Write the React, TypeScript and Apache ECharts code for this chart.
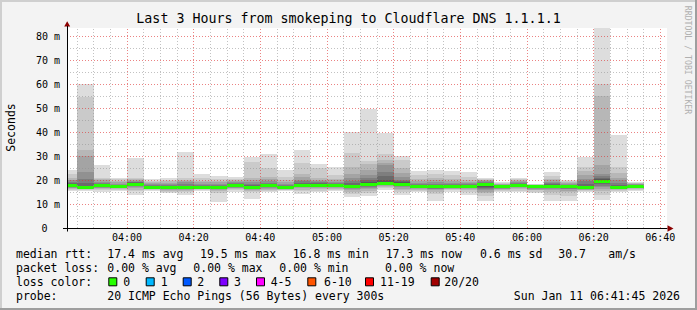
import React, { useEffect, useRef } from 'react';
import * as echarts from 'echarts';

// ---- data -------------------------------------------------------------
// end time of each 5-minute smokeping bin
const binEnds = [
  '03:45', '03:50', '03:55', '04:00', '04:05', '04:10', '04:15', '04:20', '04:25', '04:30',
  '04:35', '04:40', '04:45', '04:50', '04:55', '05:00', '05:05', '05:10', '05:15', '05:20',
  '05:25', '05:30', '05:35', '05:40', '05:45', '05:50', '05:55', '06:00', '06:05', '06:10',
  '06:15', '06:20', '06:25', '06:30', '06:35',
];

// median rtt (ms) per bin
const medians = [
  17.6, 17.0, 17.7, 17.2, 18.3, 17.0, 16.9, 16.9, 16.9, 16.8,
  17.9, 17.0, 17.6, 16.8, 17.9, 17.9, 17.8, 17.2, 18.3, 18.7,
  18.3, 17.3, 17.2, 17.3, 17.1, 18.0, 17.1, 17.8, 17.1, 17.5,
  17.1, 16.8, 19.5, 17.0, 17.3,
];

// lost pings per bin (out of 20)
const lostPings = [
  0, 0, 0, 0, 0, 0, 0, 0, 0, 0,
  0, 0, 0, 0, 0, 0, 0, 0, 0, 0,
  0, 0, 0, 0, 0, 0, 0, 0, 0, 0,
  0, 0, 0, 0, 0,
];

// the 20 sorted ping rtts (ms) of each bin -> smoke
const sortedPings = [
  [15.5, 16.0, 16.3, 16.6, 16.8, 17.0, 17.2, 17.4, 17.5, 17.6, 17.7, 17.9, 18.2, 18.6, 19.2, 19.8, 20.2, 21.0, 22.5, 24.0],
  [15.3, 15.8, 16.2, 16.4, 16.6, 16.8, 16.9, 17.0, 17.0, 17.0, 17.1, 17.3, 17.7, 18.6, 20.5, 23.2, 29.8, 32.3, 54.5, 60.2],
  [15.2, 15.7, 16.1, 16.5, 16.8, 17.0, 17.2, 17.4, 17.5, 17.7, 17.8, 17.9, 18.1, 18.4, 18.8, 19.3, 19.8, 20.3, 21.0, 26.4],
  [15.6, 16.0, 16.3, 16.5, 16.7, 16.9, 17.0, 17.1, 17.2, 17.2, 17.3, 17.4, 17.6, 17.8, 18.1, 18.5, 19.0, 19.6, 20.3, 21.0],
  [13.6, 15.3, 16.0, 16.6, 17.0, 17.4, 17.7, 17.9, 18.1, 18.3, 18.4, 18.6, 18.8, 19.0, 19.3, 19.6, 20.0, 20.5, 21.0, 29.2],
  [15.3, 15.8, 16.2, 16.4, 16.6, 16.8, 16.9, 17.0, 17.0, 17.0, 17.1, 17.2, 17.4, 17.6, 17.9, 18.2, 18.6, 19.0, 19.6, 20.4],
  [14.5, 15.2, 15.6, 16.0, 16.3, 16.5, 16.6, 16.7, 16.8, 16.9, 17.0, 17.1, 17.3, 17.6, 18.0, 18.4, 18.9, 19.4, 20.1, 20.9],
  [13.6, 15.0, 15.6, 16.0, 16.3, 16.5, 16.6, 16.7, 16.8, 16.9, 17.0, 17.1, 17.3, 17.7, 18.3, 19.0, 19.6, 20.2, 20.9, 31.6],
  [15.4, 15.8, 16.1, 16.3, 16.5, 16.6, 16.7, 16.8, 16.9, 16.9, 17.0, 17.1, 17.3, 17.6, 18.0, 18.5, 19.0, 19.6, 20.8, 22.7],
  [10.8, 14.6, 15.4, 15.8, 16.1, 16.3, 16.5, 16.6, 16.7, 16.8, 16.9, 17.0, 17.2, 17.5, 17.9, 18.4, 19.0, 19.7, 20.6, 21.5],
  [15.2, 15.7, 16.1, 16.5, 16.8, 17.1, 17.3, 17.5, 17.7, 17.8, 17.9, 18.0, 18.2, 18.4, 18.7, 19.0, 19.4, 19.9, 20.6, 21.4],
  [11.9, 14.8, 15.5, 15.9, 16.2, 16.4, 16.6, 16.8, 16.9, 17.0, 17.1, 17.3, 17.6, 18.0, 18.5, 19.2, 20.0, 20.9, 27.6, 29.5],
  [15.0, 15.6, 16.0, 16.4, 16.7, 16.9, 17.1, 17.3, 17.4, 17.5, 17.6, 17.8, 18.0, 18.4, 18.9, 19.5, 20.3, 21.2, 24.8, 31.0],
  [15.3, 15.7, 16.0, 16.2, 16.4, 16.5, 16.6, 16.7, 16.8, 16.8, 16.9, 17.0, 17.2, 17.5, 17.9, 18.4, 19.0, 19.8, 21.3, 24.3],
  [14.2, 15.3, 16.0, 16.5, 16.9, 17.2, 17.4, 17.6, 17.7, 17.8, 17.9, 18.1, 18.4, 18.8, 19.4, 20.2, 21.2, 22.3, 27.1, 32.7],
  [15.0, 15.6, 16.1, 16.5, 16.9, 17.2, 17.4, 17.6, 17.7, 17.8, 17.9, 18.1, 18.3, 18.6, 19.0, 19.5, 20.1, 20.9, 24.8, 26.7],
  [15.5, 16.0, 16.4, 16.8, 17.1, 17.3, 17.5, 17.6, 17.7, 17.8, 17.9, 18.0, 18.2, 18.5, 18.8, 19.2, 19.8, 20.6, 21.9, 25.6],
  [12.8, 14.0, 15.2, 15.8, 16.2, 16.5, 16.7, 16.9, 17.0, 17.2, 17.3, 17.6, 18.0, 18.6, 19.5, 21.0, 22.5, 25.3, 31.3, 40.1],
  [13.3, 14.6, 15.6, 16.3, 16.8, 17.2, 17.6, 17.9, 18.1, 18.3, 18.5, 18.8, 19.2, 19.8, 20.7, 22.0, 24.2, 26.8, 27.8, 49.4],
  [16.0, 16.5, 17.0, 17.4, 17.8, 18.1, 18.3, 18.5, 18.6, 18.7, 18.8, 19.2, 20.0, 21.5, 23.4, 26.4, 27.1, 28.5, 30.9, 39.6],
  [13.7, 15.0, 15.8, 16.4, 16.9, 17.3, 17.6, 17.9, 18.1, 18.3, 18.5, 18.7, 19.0, 19.5, 20.2, 21.2, 23.0, 25.0, 28.5, 29.9],
  [15.0, 15.6, 16.0, 16.3, 16.6, 16.8, 17.0, 17.1, 17.2, 17.3, 17.4, 17.5, 17.7, 18.0, 18.4, 18.9, 19.5, 20.3, 22.0, 23.9],
  [11.1, 14.0, 15.0, 15.7, 16.1, 16.4, 16.7, 16.9, 17.0, 17.2, 17.3, 17.4, 17.7, 18.0, 18.5, 19.1, 19.9, 20.8, 22.3, 24.3],
  [15.2, 15.7, 16.1, 16.4, 16.6, 16.8, 17.0, 17.1, 17.2, 17.3, 17.4, 17.5, 17.7, 18.0, 18.4, 18.9, 19.6, 20.5, 22.0, 23.9],
  [13.7, 15.2, 15.8, 16.2, 16.5, 16.7, 16.9, 17.0, 17.1, 17.1, 17.2, 17.3, 17.5, 17.8, 18.2, 18.7, 19.3, 20.1, 21.3, 23.2],
  [11.4, 13.3, 14.5, 15.2, 15.7, 16.2, 16.6, 17.0, 17.4, 17.8, 18.1, 18.3, 18.6, 18.9, 19.2, 19.5, 19.8, 20.2, 20.6, 20.9],
  [14.8, 15.4, 15.8, 16.1, 16.4, 16.6, 16.8, 16.9, 17.0, 17.0, 17.1, 17.2, 17.3, 17.5, 17.7, 17.9, 18.2, 18.5, 18.8, 19.1],
  [15.0, 15.6, 16.1, 16.5, 16.9, 17.2, 17.4, 17.6, 17.7, 17.8, 17.9, 18.0, 18.2, 18.4, 18.7, 19.0, 19.4, 19.8, 20.3, 20.9],
  [14.4, 15.2, 15.7, 16.0, 16.3, 16.5, 16.7, 16.8, 16.9, 17.0, 17.1, 17.2, 17.3, 17.4, 17.6, 17.7, 17.9, 18.0, 18.2, 18.4],
  [11.4, 13.8, 15.0, 15.7, 16.2, 16.6, 16.9, 17.1, 17.3, 17.5, 17.6, 17.8, 18.0, 18.3, 18.7, 19.2, 19.8, 20.6, 21.8, 23.2],
  [11.4, 13.5, 14.8, 15.6, 16.1, 16.4, 16.7, 16.9, 17.0, 17.1, 17.2, 17.3, 17.5, 17.7, 17.9, 18.2, 18.6, 19.0, 19.5, 20.2],
  [14.8, 15.3, 15.7, 16.0, 16.3, 16.5, 16.6, 16.7, 16.8, 16.8, 16.9, 17.1, 17.6, 18.5, 19.5, 20.5, 22.0, 23.6, 25.4, 29.6],
  [11.8, 13.6, 15.3, 16.4, 17.1, 17.7, 18.3, 18.8, 19.2, 19.5, 19.7, 20.0, 20.4, 20.9, 21.5, 22.3, 26.1, 55.2, 60.1, 83.7],
  [14.8, 15.4, 15.8, 16.1, 16.4, 16.6, 16.7, 16.8, 16.9, 17.0, 17.1, 17.3, 17.6, 18.1, 18.8, 19.8, 21.0, 23.0, 25.4, 38.7],
  [15.6, 16.0, 16.3, 16.6, 16.8, 17.0, 17.1, 17.2, 17.3, 17.3, 17.4, 17.6, 17.7, 17.8, 18.0, 18.2, 18.4, 18.6, 18.9, 19.2],
];

const xTickLabels = ['04:00', '04:20', '04:40', '05:00', '05:20', '05:40', '06:00', '06:20', '06:40'];
const yTickStep = 10; // y labels: 0, 10 m ... 80 m
const yZeroLabel = '0';

const titleText = 'Last 3 Hours from smokeping to Cloudflare DNS 1.1.1.1';
const rttStats = ['17.4 ms avg', '19.5 ms max', '16.8 ms min', '17.3 ms now', '0.6 ms sd', '30.7', 'am/s'];
const lossStats = ['0.00 % avg', '0.00 % max', '0.00 % min', '0.00 % now'];
const lossLabels = ['0', '1', '2', '3', '4-5', '6-10', '11-19', '20/20'];
const lossUpper = [0, 1, 2, 3, 5, 10, 19, 20];
const probeText = '20 ICMP Echo Pings (56 Bytes) every 300s';
const dateText = 'Sun Jan 11 06:41:45 2026';

// ---- styles -----------------------------------------------------------
const lossColors = ['#26ff00', '#00b8ff', '#0059ff', '#7e00ff', '#ff00ff', '#ff5500', '#ff0000', '#a10000'];
const SMOKE = ['#dddddd', '#cacaca', '#b7b7b7', '#a4a4a4', '#919191', '#7e7e7e', '#6b6b6b', '#585858', '#454545', '#323232'];
const MONO = '"DejaVu Sans Mono", monospace';
const GRID_MINOR = 'rgba(143,143,143,0.55)';
const GRID_MAJOR = 'rgba(222,48,48,0.6)';
const BIN_MIN = 5;

const toMin = (s: string) => {
  const [h, m] = s.split(':').map(Number);
  return h * 60 + m;
};
const fmtMin = (v: number) => {
  const h = Math.floor(v / 60);
  const m = Math.round(v - h * 60);
  return `${String(h).padStart(2, '0')}:${String(m).padStart(2, '0')}`;
};
const lossIndex = (n: number) => {
  for (let i = 0; i < lossUpper.length; i++) if (n <= lossUpper[i]) return i;
  return lossUpper.length - 1;
};

export default function App() {
  const ref = useRef<HTMLDivElement>(null);

  useEffect(() => {
    if (!ref.current) return;
    const chart = echarts.init(ref.current, null, { renderer: 'svg' });

    const xMin = toMin('03:42');
    const xMax = toMin('06:42');
    const yMax = 250 / 3;

    const data = binEnds.map((t, i) => [toMin(t), medians[i], lostPings[i], ...sortedPings[i]]);

    const majorX = xTickLabels.map(toMin);
    const gridLines: any[] = [];
    for (let m = toMin('03:45'); m < xMax; m += 5) {
      const major = m % 20 === 0;
      gridLines.push({ xAxis: m, lineStyle: { color: major ? GRID_MAJOR : GRID_MINOR, type: [1, 2], width: 1 } });
    }
    for (let v = 5; v < yMax; v += 5) {
      const major = v % 10 === 0;
      gridLines.push({ yAxis: v, lineStyle: { color: major ? GRID_MAJOR : GRID_MINOR, type: [1, 2], width: 1 } });
    }

    const graphics: any[] = [];
    const txt = (text: string, x: number, y: number, extra: any = {}) =>
      graphics.push({
        type: 'text',
        x,
        y,
        silent: true,
        style: { text, fill: '#000', font: `11.5px ${MONO}`, textAlign: 'left', textVerticalAlign: 'middle', ...extra },
      });

    // frame
    graphics.push({ type: 'rect', shape: { x: 0, y: 0, width: 697, height: 2 }, style: { fill: '#cfcfcf' }, silent: true });
    graphics.push({ type: 'rect', shape: { x: 0, y: 0, width: 2, height: 310 }, style: { fill: '#cfcfcf' }, silent: true });
    graphics.push({ type: 'rect', shape: { x: 0, y: 308, width: 697, height: 2 }, style: { fill: '#9e9e9e' }, silent: true });
    graphics.push({ type: 'rect', shape: { x: 695, y: 0, width: 2, height: 310 }, style: { fill: '#9e9e9e' }, silent: true });

    // axis arrows and small axis overhangs
    graphics.push({ type: 'polygon', shape: { points: [[64.2, 26.5], [67.2, 21.2], [70.2, 26.5]] }, style: { fill: '#8b0000' }, silent: true, z: 20 });
    graphics.push({ type: 'line', shape: { x1: 67.5, y1: 26, x2: 67.5, y2: 28.5 }, style: { stroke: '#000', lineWidth: 1 }, silent: true, z: 20 });
    graphics.push({ type: 'line', shape: { x1: 67.5, y1: 228, x2: 67.5, y2: 231.5 }, style: { stroke: '#000', lineWidth: 1 }, silent: true, z: 20 });
    graphics.push({ type: 'line', shape: { x1: 63, y1: 228.5, x2: 67.5, y2: 228.5 }, style: { stroke: '#000', lineWidth: 1 }, silent: true, z: 20 });
    graphics.push({ type: 'polygon', shape: { points: [[667.5, 225.3], [673.5, 228.5], [667.5, 231.7]] }, style: { fill: '#8b0000' }, silent: true, z: 20 });

    // zero label of the y axis (kept aligned with the digit column of "10 m")
    graphics.push({
      type: 'text', x: 47.5, y: 228.3, silent: true,
      style: { text: yZeroLabel, fill: '#000', font: `10px ${MONO}`, textAlign: 'right', textVerticalAlign: 'middle' },
    });

    // y axis name
    graphics.push({
      type: 'text', x: 10.8, y: 127.5, rotation: Math.PI / 2, silent: true,
      style: { text: 'Seconds', fill: '#000', font: `11.5px ${MONO}`, textAlign: 'center', textVerticalAlign: 'middle' },
    });
    // watermark
    graphics.push({
      type: 'text', x: 687.5, y: 60, rotation: -Math.PI / 2, silent: true,
      style: { text: 'RRDTOOL / TOBI OETIKER', fill: '#b0b0b0', font: `8.2px ${MONO}`, textAlign: 'center', textVerticalAlign: 'middle' },
    });

    // legend rows
    const row1 = 254.3, row2 = 268.3, row3 = 282.3, row4 = 296;
    txt('median rtt:', 16, row1);
    const rttX = [107.3, 200, 292.7, 385.7, 480, 558.3, 608.3];
    rttStats.forEach((s, i) => txt(s, rttX[i], row1));
    txt('packet loss:', 16, row2);
    const lossX = [107.3, 193.3, 279.3, 385];
    lossStats.forEach((s, i) => txt(s, lossX[i], row2));
    txt('loss color:', 16, row3);
    const boxX = [108.3, 145.7, 182.7, 219.3, 256, 307.3, 365, 430.7];
    const labX = [123.3, 160.7, 197.3, 234, 270.7, 324, 380, 444.3];
    lossLabels.forEach((l, i) => {
      graphics.push({
        type: 'rect', silent: true,
        shape: { x: boxX[i] + 0.5, y: 277.8, width: 8, height: 8 },
        style: { fill: lossColors[i], stroke: '#000', lineWidth: 1 },
      });
      txt(l, labX[i], row3);
    });
    txt('probe:', 16, row4);
    txt(probeText, 107.3, row4);
    txt(dateText, 680, row4, { textAlign: 'right' });

    const option: any = {
      animation: false,
      backgroundColor: '#f3f3f3',
      textStyle: { fontFamily: MONO },
      title: {
        text: titleText,
        left: 'center',
        top: 12,
        padding: 0,
        textStyle: { fontFamily: MONO, fontSize: 13.3, fontWeight: 'normal', color: '#000' },
      },
      grid: {
        left: 67,
        top: 28,
        width: 600,
        height: 200,
        show: true,
        backgroundColor: '#ffffff',
        borderWidth: 0,
      },
      xAxis: {
        type: 'value',
        min: xMin,
        max: xMax,
        z: 10,
        axisLine: { show: true, onZero: false, lineStyle: { color: '#000', width: 1 } },
        axisTick: { show: false },
        splitLine: { show: false },
        axisLabel: {
          customValues: majorX,
          formatter: (v: number) => fmtMin(v),
          fontFamily: MONO,
          fontSize: 10,
          color: '#000',
          margin: 4,
        },
      },
      yAxis: {
        type: 'value',
        min: 0,
        max: yMax,
        interval: yTickStep,
        z: 10,
        axisLine: { show: true, onZero: false, lineStyle: { color: '#000', width: 1 } },
        axisTick: { show: false },
        splitLine: { show: false },
        axisLabel: {
          showMinLabel: false,
          showMaxLabel: false,
          formatter: (v: number) => `${v} m`,
          fontFamily: MONO,
          fontSize: 10,
          color: '#000',
          margin: 7,
        },
      },
      graphic: graphics,
      series: [
        {
          type: 'custom',
          z: 2,
          silent: true,
          encode: { x: 0, y: 1 },
          data,
          renderItem: (params: any, api: any) => {
            const end = api.value(0);
            const start = end - BIN_MIN;
            const cs = params.coordSys;
            const clipR = { x: cs.x, y: cs.y, width: cs.width, height: cs.height };
            const xa = Math.round(api.coord([start, 0])[0]);
            const xb = Math.round(api.coord([end, 0])[0]);
            const children: any[] = [];
            for (let k = 0; k < 10; k++) {
              const lo = api.value(3 + k);
              const hi = api.value(3 + 19 - k);
              const yt = Math.round(api.coord([start, hi])[1]);
              const yb = Math.round(api.coord([start, lo])[1]);
              const r = echarts.graphic.clipRectByRect(
                { x: xa, y: yt, width: xb - xa, height: Math.max(yb - yt, 1) },
                clipR,
              );
              if (r) children.push({ type: 'rect', shape: r, style: { fill: SMOKE[k] } });
            }
            const ym = api.coord([start, api.value(1)])[1];
            const rm = echarts.graphic.clipRectByRect(
              { x: xa, y: Math.round(ym - 1.5), width: xb - xa, height: 3 },
              clipR,
            );
            if (rm) {
              children.push({
                type: 'rect',
                shape: rm,
                style: { fill: lossColors[lossIndex(api.value(2))] },
              });
            }
            return { type: 'group', children };
          },
        },
        {
          type: 'line',
          z: 5,
          silent: true,
          data: [],
          markLine: {
            silent: true,
            animation: false,
            symbol: ['none', 'none'],
            label: { show: false },
            emphasis: { disabled: true },
            data: gridLines,
          },
        },
      ],
    };

    chart.setOption(option);
    return () => chart.dispose();
  }, []);

  return <div ref={ref} style={{ position: 'absolute', left: 0, top: 0, width: 697, height: 310 }} />;
}
